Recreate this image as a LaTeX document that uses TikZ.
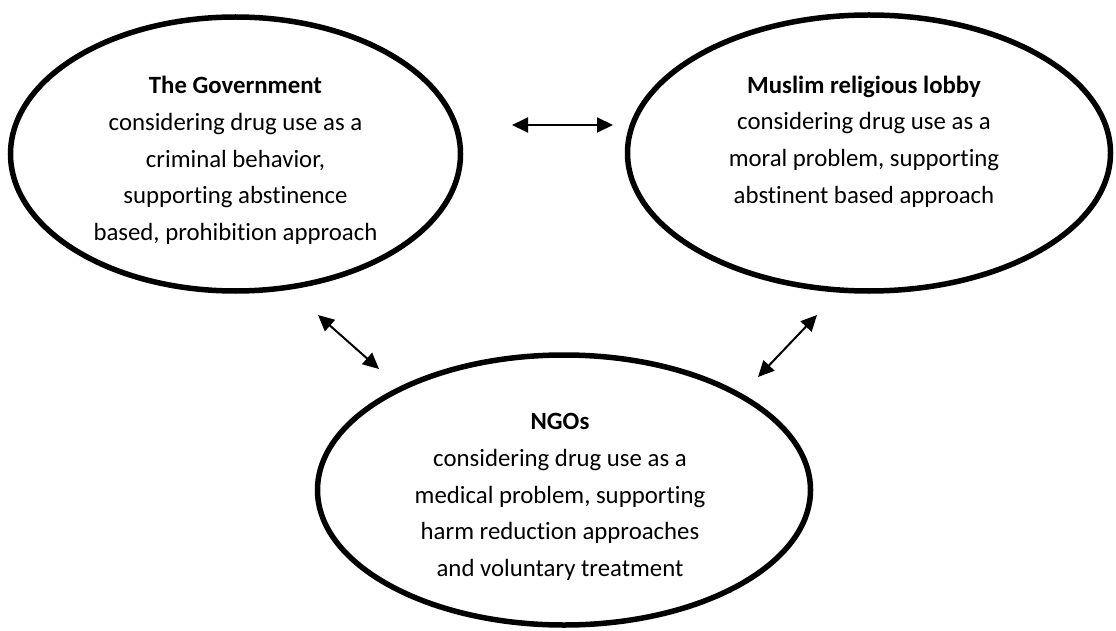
\documentclass[tikz,border=0pt]{standalone}
\usepackage{fontspec}
\setmainfont{Carlito}[Ligatures=CommonOff]
\usetikzlibrary{arrows.meta,shapes.geometric}

\begin{document}
\begin{tikzpicture}[x=1pt, y=-1pt,
    party/.style={draw, ellipse, line width=5.5pt, inner sep=0pt},
    blurb/.style={align=center, inner sep=0pt,
                  font=\fontsize{24.8pt}{36.7pt}\selectfont},
    link/.style={{Triangle[length=16pt,width=15pt]}-{Triangle[length=16pt,width=15pt]},
                 line width=2pt}]
  \useasboundingbox (0,0) rectangle (1116,631);
  % The three actors
  \node[party, minimum width=450pt, minimum height=274pt] (gov) at (235.5,154) {};
  \node[party, minimum width=483pt, minimum height=276pt] (lobby) at (869,153) {};
  \node[party, minimum width=493pt, minimum height=270pt] (ngo) at (564,490) {};
  % Their views
  \node[blurb] (gov-txt) at (gov.center) [yshift=-6.5pt]
    {\textbf{The Government}\\considering drug use as a\\criminal behavior,\\supporting abstinence\\based, prohibition approach};
  \node[blurb] (lobby-txt) at (lobby.center) [xshift=-5pt, yshift=11.5pt]
    {\textbf{Muslim religious lobby}\\considering drug use as a\\moral problem, supporting\\abstinent based approach};
  \node[blurb] (ngo-txt) at (ngo.center) [xshift=-4pt, yshift=-7pt]
    {\textbf{NGOs}\\considering drug use as a\\medical problem, supporting\\harm reduction approaches\\and voluntary treatment};
  % Arrow ends
  \coordinate (top-a) at (512,125);
  \coordinate (top-b) at (613,125);
  \coordinate (left-a) at (318,315);
  \coordinate (left-b) at (379,369);
  \coordinate (right-a) at (817,315);
  \coordinate (right-b) at (758,377);
  % Relations
  \draw[link] (top-a) -- (top-b);
  \draw[link] (left-a) -- (left-b);
  \draw[link] (right-a) -- (right-b);
\end{tikzpicture}
\end{document}
